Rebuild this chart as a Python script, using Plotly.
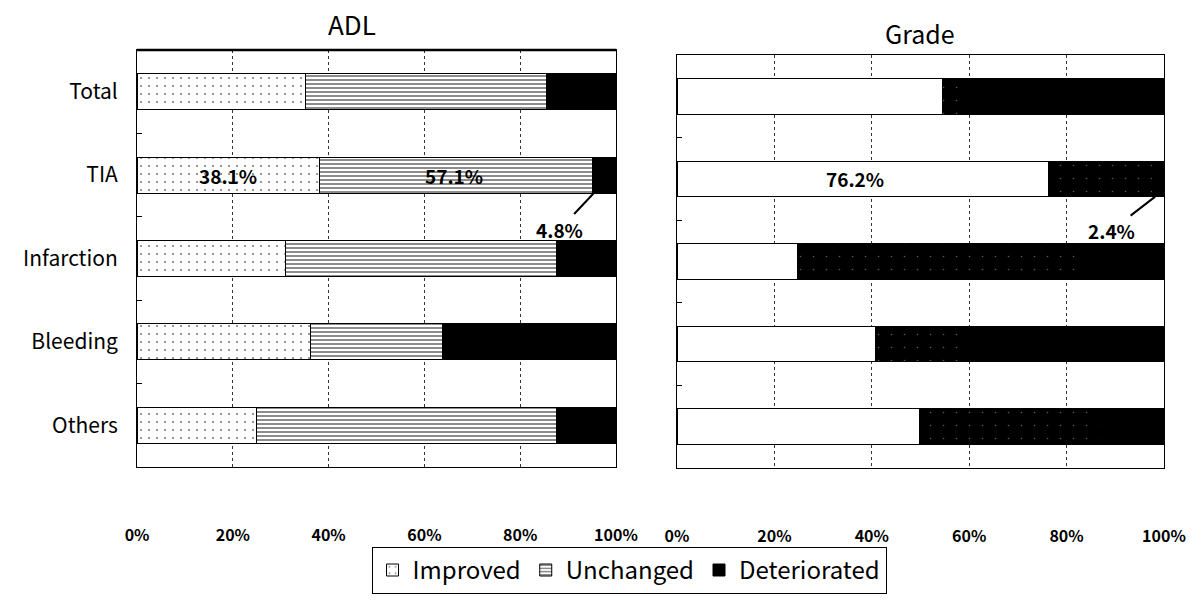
import plotly.graph_objects as go

# Outcome shares (%) per stroke type
categories = ["Total", "TIA", "Infarction", "Bleeding", "Others"]
series_names = ["Improved", "Unchanged", "Deteriorated"]

adl_improved = [35.1, 38.1, 31.1, 36.3, 24.9]
adl_unchanged = [50.3, 57.1, 56.5, 27.4, 62.6]
adl_deteriorated = [14.6, 4.8, 12.4, 36.3, 12.5]

grade_improved = [54.6, 76.2, 24.7, 40.8, 49.8]
grade_unchanged = [5.0, 21.4, 58.3, 18.0, 37.0]
grade_deteriorated = [40.4, 2.4, 17.0, 41.2, 13.2]

x_ticks = [0, 20, 40, 60, 80, 100]
x_tick_labels = ["0%", "20%", "40%", "60%", "80%", "100%"]

FONT = "Noto Sans CJK JP"
LINE = dict(color="black", width=1)

adl_styles = [
    dict(color="white", pattern=dict(shape=".", fgcolor="black", bgcolor="white", size=8, solidity=0.06)),
    dict(color="white", pattern=dict(shape="-", fgcolor="black", bgcolor="white", size=4, solidity=0.45)),
    dict(color="black"),
]
grade_styles = [
    dict(color="white"),
    dict(color="black", pattern=dict(shape=".", fgcolor="#bbbbbb", bgcolor="black", size=13, solidity=0.012)),
    dict(color="black"),
]

fig = go.Figure()

for name, vals, style in zip(series_names, [adl_improved, adl_unchanged, adl_deteriorated], adl_styles):
    fig.add_trace(go.Bar(
        y=categories, x=vals, name=name, orientation="h",
        marker=dict(line=LINE, **style),
        xaxis="x", yaxis="y", showlegend=True,
    ))

for name, vals, style in zip(series_names, [grade_improved, grade_unchanged, grade_deteriorated], grade_styles):
    fig.add_trace(go.Bar(
        y=categories, x=vals, name=name, orientation="h",
        marker=dict(line=LINE, **style),
        xaxis="x2", yaxis="y2", showlegend=False,
    ))

# Value labels for the TIA row
tia = categories.index("TIA")
label_font = dict(family=FONT, size=19, color="black", weight="bold")
arrow = dict(showarrow=True, arrowhead=0, arrowwidth=2, arrowcolor="black")
annotations = [
    dict(x=adl_improved[tia] / 2, y=tia, xref="x", yref="y",
         text=f"{adl_improved[tia]}%", showarrow=False, font=label_font),
    dict(x=adl_improved[tia] + adl_unchanged[tia] / 2 - 0.5, y=tia, xref="x", yref="y",
         text=f"{adl_unchanged[tia]}%", showarrow=False, font=label_font),
    dict(x=adl_improved[tia] + adl_unchanged[tia] + 0.2, y=tia + 0.215, xref="x", yref="y",
         text=f"{adl_deteriorated[tia]}%", ax=-34, ay=36, font=label_font, **arrow),
    dict(x=grade_improved[tia] / 2 - 1.5, y=tia, xref="x2", yref="y2",
         text=f"{grade_improved[tia]}%", showarrow=False, font=label_font),
    dict(x=grade_improved[tia] + grade_unchanged[tia] + 0.6, y=tia + 0.215, xref="x2", yref="y2",
         text=f"{grade_deteriorated[tia]}%", ax=-44, ay=34, font=label_font, **arrow),
    dict(x=0.294, y=0.995, xref="paper", yref="paper", text="ADL", showarrow=False,
         xanchor="center", yanchor="top",
         font=dict(family=FONT, size=26, color="black")),
    dict(x=0.769, y=0.978, xref="paper", yref="paper", text="Grade", showarrow=False,
         xanchor="center", yanchor="top",
         font=dict(family=FONT, size=25, color="black")),
]

xaxis_common = dict(
    range=[0, 100], tickvals=x_ticks, ticktext=x_tick_labels,
    showgrid=True, gridcolor="#333", griddash="dot", gridwidth=1,
    showline=True, linecolor="black", linewidth=1, mirror=True,
    ticks="", ticklabelstandoff=54, automargin=False,
    tickfont=dict(family=FONT, size=16, color="black", weight="bold"),
    zeroline=False, fixedrange=True,
)
yaxis_common = dict(
    categoryorder="array", categoryarray=categories, autorange="reversed",
    showline=True, linecolor="black", linewidth=1, mirror=True,
    showgrid=False, ticks="inside", ticklen=5, tickcolor="black",
    tickson="boundaries", fixedrange=True, automargin=False,
)

fig.update_layout(
    width=1197, height=601,
    margin=dict(l=0, r=0, t=0, b=0, autoexpand=False),
    paper_bgcolor="white", plot_bgcolor="white",
    barmode="stack", bargap=0.57,
    font=dict(family=FONT, color="black"),
    xaxis=dict(domain=[0.1145, 0.5146], anchor="y", **xaxis_common),
    yaxis=dict(domain=[0.2230, 0.9168], anchor="x", ticklabelstandoff=14,
               tickfont=dict(family=FONT, size=21, color="black"), **yaxis_common),
    xaxis2=dict(domain=[0.5656, 0.9724], anchor="y2", **xaxis_common),
    yaxis2=dict(domain=[0.2213, 0.9085], anchor="x2", showticklabels=False, **yaxis_common),
    legend=dict(
        orientation="h", x=0.5255, xanchor="center", y=0.09, yanchor="top",
        bgcolor="white", bordercolor="black", borderwidth=1,
        font=dict(family=FONT, size=24, color="black"),
        traceorder="normal", itemwidth=30,
    ),
    # heavier top frame line on the ADL panel
    shapes=[dict(type="line", xref="x domain", yref="y domain", x0=0, x1=1, y0=1, y1=1,
                 line=dict(color="black", width=2.5))],
    annotations=annotations,
)

fig.write_html("out.html")
